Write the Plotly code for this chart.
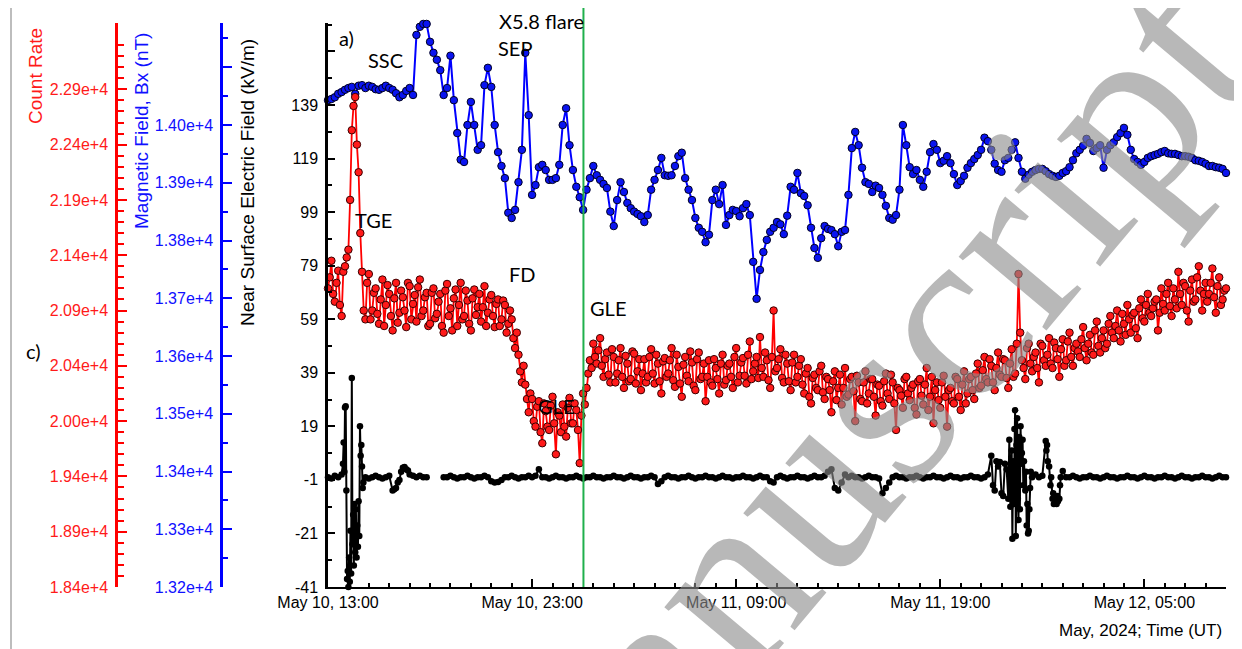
import plotly.graph_objects as go
import pandas as pd

# ---------------- data ----------------
START = "2024-05-10 13:00"
END = "2024-05-12 09:00"
FLARE_TIME = "2024-05-11 01:31"

# Magnetic field Bx (nT), 10-minute samples from START
bx_nT = [
    14043, 14045, 14048, 14054, 14057, 14061, 14064, 14066, 14054, 14068,
    14069, 14064, 14068, 14066, 14062, 14061, 14064, 14068, 14064, 14061,
    14055, 14048, 14052, 14059, 14064, 14052, 14156, 14170, 14175, 14175,
    14144, 14125, 14113, 14095, 14052, 14064, 14120, 14043, 13986, 13940,
    13936, 14000, 14040, 14000, 13957, 13965, 14069, 14099, 14066, 14000,
    13953, 13929, 13908, 13848, 13839, 13853, 13901, 13957, 14125, 14017,
    13879, 13896, 13927, 13931, 13922, 13905, 13905, 13908, 13931, 14000,
    14029, 13965, 13922, 13893, 13875, 13853, 13888, 13908, 13929, 13913,
    13905, 13898, 13891, 13850, 13825, 13870, 13901, 13884, 13865, 13856,
    13850, 13846, 13842, 13832, 13844, 13888, 13905, 13922, 13943, 13913,
    13912, 13913, 13929, 13946, 13952, 13908, 13888, 13870, 13839, 13822,
    13815, 13797, 13810, 13870, 13888, 13863, 13896, 13827, 13844, 13853,
    13851, 13842, 13856, 13863, 13844, 13763, 13699, 13749, 13780, 13801,
    13815, 13822, 13832, 13828, 13811, 13843, 13893, 13888, 13917, 13882,
    13877, 13861, 13822, 13787, 13770, 13804, 13825, 13820, 13818, 13811,
    13790, 13815, 13818, 13879, 13960, 13988, 13965, 13926, 13901, 13898,
    13884, 13895, 13891, 13879, 13860, 13839, 13836, 13844, 13888, 14000,
    13965, 13927, 13915, 13922, 13905, 13893, 13919, 13953, 13967, 13957,
    13934, 13938, 13946, 13934, 13915, 13896, 13903, 13912, 13926, 13934,
    13941, 13948, 13957, 13978, 13972, 13957, 13933, 13922, 13919, 13939,
    13943, 13957, 13970, 13943, 13919, 13907, 13914, 13919, 13922, 13924,
    13924, 13920, 13915, 13912, 13910, 13912, 13917, 13920, 13927, 13939,
    13951, 13957, 13964, 13976, 13969, 13955, 13960, 13965, 13926, 13957,
    13965, 13970, 13979, 13986, 13995, 13983, 13957, 13941, 13936, 13931,
    13936, 13943, 13946, 13948, 13950, 13953, 13955, 13951, 13950, 13950,
    13948, 13946, 13946, 13945, 13943, 13939, 13938, 13936, 13933, 13929,
    13929, 13927, 13926, 13924, 13917,
]

# Count rate at the full 10-minute marks from START
count_rate = [
    21100, 21350, 20980, 21260, 20850, 21300, 21450, 22530, 22830, 22150,
    21250, 20820, 21230, 20900, 21100, 20780, 21180, 20950, 21050, 20720,
    21150, 20880, 21020, 20750, 21120, 20960, 20800, 21180, 20900, 21060,
    20780, 21100, 20870, 21050, 20700, 21140, 20920, 21010, 20760, 21150,
    20850, 20990, 20720, 21090, 20930, 20800, 21120, 20880, 21040, 20750,
    21000, 20820, 20950, 20780, 20820, 20560, 20500, 20250, 20230, 19980,
    20100, 19850, 20080, 19700, 19990, 19820, 20120, 19600, 19950, 20050,
    19760, 20110, 19880, 20000, 19520, 20150, 20200, 20450, 20600, 20420,
    20650, 20300, 20520, 20250, 20480, 20330, 20560, 20200, 20420, 20280,
    20510, 20350, 20180, 20460, 20300, 20550, 20240, 20420, 20150, 20470,
    20330, 20560, 20210, 20390, 20120, 20480, 20260, 20430, 20180, 20520,
    20300, 20080, 20450, 20220, 20380, 20150, 20500, 20270, 20420, 20200,
    20560, 20310, 20470, 20240, 20620, 20350, 20480, 20660, 20300, 20450,
    20200, 20900, 20380, 20550, 20250, 20420, 20180, 20500, 20300, 20460,
    20150, 20380, 20060, 20320, 20180, 20400, 20100, 20280, 19980, 20350,
    20200, 20050, 20380, 20140, 20300, 19900, 20250, 20080, 20350, 20150,
    20280, 19950, 20220, 20040, 20330, 20100, 20250, 19820, 20180, 20020,
    20300, 20090, 20230, 19960, 20280, 20050, 20380, 20120, 19880, 20250,
    20020, 20310, 19850, 20200, 20060, 20280, 20000, 20350, 20150, 20300,
    20100, 20420, 20220, 20480, 20250, 20400, 20180, 20520, 20300, 20450,
    20200, 20550, 20330, 21230, 20450, 20280, 20600, 20350, 20520, 20250,
    20580, 20400, 20650, 20380, 20560, 20300, 20640, 20450, 20700, 20400,
    20600, 20480, 20750, 20450, 20680, 20500, 20800, 20520, 20720, 20600,
    20850, 20650, 20900, 20620, 20780, 20950, 20700, 20880, 20650, 21000,
    20800, 21050, 20850, 20980, 20720, 21100, 20900, 21150, 20850, 21000,
    21250, 20950, 21120, 20800, 21180, 21000, 21300, 20900, 21150, 21050,
    21280, 20880, 21200, 21000, 21100,
]

# Count rate at the 5-minute marks between them (START + 5 min, + 15 min, ...)
count_rate_mid = [
    21200, 21050, 21150, 20950, 21250, 21380, 21900, 22750, 22400, 21600,
    20900, 21150, 20820, 21060, 20870, 21000, 20760, 21130, 20850, 21010,
    20790, 21080, 20900, 21150, 20820, 21040, 21110, 20850, 21020, 20760,
    21060, 20830, 20980, 20760, 21080, 20850, 20720, 21090, 20950, 20820,
    21080, 20780, 21010, 20860, 21050, 20930, 20760, 21000, 20850, 20960,
    20760, 20990, 20700, 20900, 20650, 20700, 20350, 20400, 20100, 20150,
    19900, 20030, 19800, 20060, 19850, 20040, 19880, 19980, 19800, 19850,
    20020, 19880, 20060, 19820, 19950, 20050, 20330, 20380, 20480, 20540,
    20400, 20460, 20320, 20550, 20250, 20450, 20300, 20490, 20260, 20530,
    20240, 20460, 20330, 20250, 20480, 20330, 20500, 20260, 20440, 20300,
    20450, 20270, 20500, 20240, 20410, 20310, 20530, 20220, 20460, 20280,
    20420, 20300, 20250, 20460, 20280, 20420, 20230, 20400, 20300, 20480,
    20250, 20430, 20310, 20500, 20280, 20420, 20290, 20380, 20520, 20270,
    20480, 20350, 20460, 20290, 20500, 20260, 20430, 20250, 20400, 20230,
    20330, 20120, 20290, 20200, 20350, 20160, 20300, 20180, 20260, 20090,
    20320, 20200, 20120, 20280, 20170, 20310, 20100, 20250, 20060, 20280,
    20120, 20230, 20080, 20260, 20150, 20320, 20060, 20200, 20130, 20280,
    20150, 20200, 20020, 20260, 20130, 20230, 20000, 20300, 20180, 20090,
    20250, 20120, 20180, 20080, 20300, 20120, 20230, 20060, 20280, 20180,
    20330, 20200, 20360, 20280, 20460, 20250, 20380, 20320, 20460, 20290,
    20420, 20300, 20600, 20700, 20380, 20560, 20420, 20480, 20380, 20600,
    20450, 20500, 20420, 20610, 20460, 20550, 20400, 20620, 20480, 20560,
    20530, 20640, 20560, 20600, 20520, 20720, 20580, 20650, 20560, 20780,
    20700, 20760, 20720, 20870, 20680, 20820, 20860, 20740, 20920, 20830,
    20950, 20880, 20920, 21000, 20880, 20960, 21050, 20940, 21100, 20920,
    21050, 21150, 20900, 21080, 20980, 21200, 21080, 21050, 20980, 21150,
    21020, 21120, 20950, 21080,
]

# Near-surface electric field (kV/m), 10-minute samples from START (None = data gap)
efield_10min = [
    0, -0.5, 0.5, 0, 1, 26, -41, 37, -28, -9,
    4, 0, -0.5, 0, 0.5, 0, -0.5, 0, 0.5, -5,
    -4, -1, 3.5, 3, 1, 0.5, 0, 0.5, 0, 0,
    None, None, None, None, 0,
    0, 0.5, 0, -0.5, 0, 0, 0.5, 0, -0.5, 0, 0, 0.5, 0,
    -1.5, -2, -1.8, -1,
    0, 0, 0.5, 0, -0.5, 0, 0, 0.5, 0,
    0.5, 3,
    0, 0, -0.5, 0, 0.5, 0, 0, -0.5, 0, 0, 0.5, 0, -0.5, 0, 0, 0.5, 0,
    0, -0.5, 0, 0, 0.5, 0, 0, -0.5, 0, 0.5, 0, 0, -0.5, 0, 0, 0.5, 0,
    -2.5, -1.5,
    0, 0.5, 0, 0, -0.5, 0, 0, 0.5, 0, -0.5, 0, 0, 0.5, 0, 0, -0.5,
    0, 0.5, 0, 0, -0.5, 0, 0, 0.5, 0, 0, -0.5, 0, 0.5, 0, 0,
    -1.5, -2,
    0, 0.5, 0, -0.5, 0, 0, 0.5, 0, 0, -0.5, 0, 0.5, 0, 0, 0.5,
    2, 3, -4, -5, -2, 1, 0,
    0.5, 0, 0, -0.5, 0, 0.5, 0, 0, -0.5,
    -6, -4, -2, 0,
    0.5, 0, 0, -0.5, 0, 0, 0.5, 0, -0.5, 0, 0, 0.5, 0, 0,
    -0.5, 0, 0.5, 0, 0, -0.5, 0, 0, 0.5, 0, 0, -0.5, 0, 1,
    8, -5, 4, -6, 5, -8, 10, 25, -16, 9, -5, -20, 0, 1, 0, 0.5,
    13.5, 4, -8, -9.6, -8, 2.3, 0,
    0, 0.5, 0, -0.5, 0, 0, 0.5, 0, 0, -0.5, 0, 0.5, 0, 0, -0.5, 0,
    0, 0.5, 0, 0, -0.5, 0, 0.5, 0, 0, -0.5, 0, 0, 0.5, 0, 0, -0.5,
    0, 0.5, 0, 0, -0.5, 0, 0, 0.5, 0, 0, -0.5, 0, 0.5, 0, 0,
]

# extra electric-field readings inside the disturbed intervals (minutes after START, kV/m)
efield_burst_min = [
    44, 46, 48, 52, 54, 56, 58, 62, 64, 66, 68, 72, 74, 76, 78, 82, 84, 86, 88,
    92, 94, 96, 98, 102, 104,
    195, 205, 215, 225, 235,
    1955, 1965, 1975, 1985, 1995, 2003, 2006, 2008, 2012, 2014, 2016, 2018,
    2022, 2024, 2026, 2028, 2032, 2034, 2036, 2038, 2042, 2044, 2046, 2052,
    2054, 2056, 2058, 2062, 2064, 2066, 2112, 2114, 2116, 2124, 2126, 2132,
    2134, 2136, 2142, 2144, 2146, 2152, 2154,
]
efield_burst_val = [
    5, 13, 2, 26.5, -5, -38, -35, -30, -39, -20, -36, -25, -14, -33, -10, -12,
    -30, -18, -26, -22, 19, 8, 12, -4, -2,
    -4.5, -2, 2, 3.8, 2.5,
    -3, 6, 5.7, -7, 3, 14, -11, 2, -23, 6, -10, 18,
    -22, 12, 22, -8, 15, -12, 19, 5, 14, -3, 6, 2,
    -18, -10, -21, -12, -4, 2, 10, 12, 6, -3, 0, -6,
    -10, -7, -10, -7, -9, -3, 0,
]

# axis ticks
count_tickvals = [18400, 18900, 19400, 19900, 20400, 20900, 21400, 21900, 22400, 22900]
count_ticktext = ["1.84e+4", "1.89e+4", "1.94e+4", "2.00e+4", "2.04e+4",
                  "2.09e+4", "2.14e+4", "2.19e+4", "2.24e+4", "2.29e+4"]
bx_tickvals = [13200, 13300, 13400, 13500, 13600, 13700, 13800, 13900, 14000, 14100]
bx_ticktext = ["1.32e+4", "1.33e+4", "1.34e+4", "1.35e+4", "1.36e+4",
               "1.37e+4", "1.38e+4", "1.39e+4", "1.40e+4", ""]
ef_tickvals = [-41, -21, -1, 19, 39, 59, 79, 99, 119, 139, 159]
ef_ticktext = ["-41", "-21", "-1", "19", "39", "59", "79", "99", "119", "139", ""]
x_label_text = ["May 10, 13:00", "May 10, 23:00", "May 11, 09:00",
                "May 11, 19:00", "May 12, 05:00"]

# ---------------- build ----------------
start = pd.Timestamp(START)
t_bx = pd.date_range(start, periods=len(bx_nT), freq="10min")

cr_pairs = [(i * 10, v) for i, v in enumerate(count_rate)]
cr_pairs += [(i * 10 + 5, v) for i, v in enumerate(count_rate_mid)]
cr_pairs.sort(key=lambda p: p[0])
t_cr = [start + pd.Timedelta(minutes=m) for m, _ in cr_pairs]
v_cr = [v for _, v in cr_pairs]

ef_pairs = [(i * 10, v) for i, v in enumerate(efield_10min)]
ef_pairs += list(zip(efield_burst_min, efield_burst_val))
ef_pairs.sort(key=lambda p: p[0])
t_ef = [start + pd.Timedelta(minutes=m) for m, _ in ef_pairs]
v_ef = [v for _, v in ef_pairs]

major_x = list(pd.date_range(start, pd.Timestamp(END), freq="2h"))
major_txt = []
li = 0
for i, _ in enumerate(major_x):
    if i % 5 == 0 and li < len(x_label_text):
        major_txt.append(x_label_text[li]); li += 1
    else:
        major_txt.append("")
minor_x = list(pd.date_range(start, pd.Timestamp(END), freq="1h"))

# page body has an 8 px margin: the figure starts 8 px in from the window edge
OFF = 8
W, H = 1242 - OFF, 649 - OFF
Y_TOP, Y_BOT = 23, 587          # plot area top / bottom in window pixels
TOP = Y_TOP - OFF
BOT = H - (Y_BOT - OFF)
PH = Y_BOT - Y_TOP


def py(ypx):
    return (Y_BOT - ypx) / PH


def px(xpx):
    return (xpx - OFF) / W


fig = go.Figure()
fig.add_trace(go.Scatter(
    x=t_ef, y=v_ef, mode="lines+markers", yaxis="y", connectgaps=False,
    line=dict(color="black", width=2),
    marker=dict(color="black", size=6.5),
    name="Electric field", cliponaxis=False))
fig.add_trace(go.Scatter(
    x=t_cr, y=v_cr, mode="lines+markers", yaxis="y3",
    line=dict(color="#ff0000", width=1.8),
    marker=dict(color="#ff1a1a", size=7.5, line=dict(color="#3a0000", width=1)),
    name="Count rate", cliponaxis=False))
fig.add_trace(go.Scatter(
    x=t_bx, y=bx_nT, mode="lines+markers", yaxis="y2",
    line=dict(color="#0000ff", width=2),
    marker=dict(color="#0a14f0", size=7.5, line=dict(color="#000020", width=1)),
    name="Bx", cliponaxis=False))

axfont = dict(family="Liberation Sans, Arial, sans-serif", size=16)

fig.update_layout(
    width=W, height=H,
    margin=dict(l=0, r=0, t=TOP, b=BOT, autoexpand=False),
    paper_bgcolor="white", plot_bgcolor="white",
    showlegend=False,
    font=axfont,
    xaxis=dict(
        domain=[px(328), px(1226)], type="date",
        range=[start, pd.Timestamp(END)],
        showline=True, linecolor="black", linewidth=2,
        ticks="inside", ticklen=8, tickwidth=1.5, tickcolor="black",
        tickmode="array", tickvals=major_x, ticktext=major_txt,
        tickfont=dict(size=16, color="black"),
        minor=dict(tickmode="array", tickvals=minor_x, ticks="inside",
                   ticklen=4, tickwidth=1.5, tickcolor="black"),
        showgrid=False, zeroline=False, anchor="y",
    ),
    yaxis=dict(
        range=[-41, -41 + PH / 2.678],
        showline=True, linecolor="black", linewidth=2.5,
        ticks="inside", ticklen=7, tickwidth=1.5, tickcolor="black",
        tickmode="array", tickvals=ef_tickvals, ticktext=ef_ticktext,
        tickfont=dict(size=16, color="black"), ticklabelstandoff=4,
        minor=dict(tickmode="array", tickvals=list(range(-31, 171, 20)),
                   ticks="inside", ticklen=4, tickwidth=1.5, tickcolor="black"),
        showgrid=False, zeroline=False,
    ),
    yaxis2=dict(
        range=[13200, 13200 + PH * 1.7316], overlaying="y", anchor="free",
        position=px(221), side="left",
        showline=True, linecolor="#0000ff", linewidth=2.5,
        ticks="inside", ticklen=9, tickwidth=2, tickcolor="#0000ff",
        tickmode="array", tickvals=bx_tickvals, ticktext=bx_ticktext,
        tickfont=dict(size=16, color="#1010ff"), ticklabelstandoff=4,
        minor=dict(tickmode="array", tickvals=list(range(13250, 14200, 100)),
                   ticks="inside", ticklen=5, tickwidth=2, tickcolor="#0000ff"),
        showgrid=False, zeroline=False,
    ),
    yaxis3=dict(
        range=[18400, 18400 + PH * 9.042], overlaying="y", anchor="free",
        position=px(116), side="left",
        showline=True, linecolor="#ff0000", linewidth=2.5,
        ticks="inside", ticklen=9, tickwidth=2, tickcolor="#ff0000",
        tickmode="array", tickvals=count_tickvals, ticktext=count_ticktext,
        tickfont=dict(size=16, color="#ff1a1a"), ticklabelstandoff=4,
        minor=dict(tickmode="array",
                   tickvals=[v for v in range(18500, 23600, 100) if (v - 18400) % 500],
                   ticks="inside", ticklen=6, tickwidth=2, tickcolor="#ff0000"),
        showgrid=False, zeroline=False,
    ),
)

# green event line and outer frame
fig.add_shape(type="line", xref="x", yref="paper", x0=FLARE_TIME, x1=FLARE_TIME,
              y0=0, y1=py(5), line=dict(color="#1fb04c", width=2))
fig.add_shape(type="rect", xref="paper", yref="paper", x0=px(11), x1=px(1240),
              y0=py(700), y1=py(5), line=dict(color="#a8a8a8", width=1.5))

# axis titles
titles = [
    ("Count Rate", 35, 76, "#ff1a1a"),
    ("Magnetic Field, Bx (nT)", 141, 131, "#1010ff"),
    ("Near Surface Electric Field (kV/m)", 248, 183, "black"),
]
for txt, xx, yy, col in titles:
    fig.add_annotation(text=txt, x=px(xx), y=py(yy), xref="paper", yref="paper",
                       textangle=-90, showarrow=False, xanchor="center", yanchor="middle",
                       font=dict(family="Liberation Sans, Arial", size=19, color=col))

labels = [
    ("a)", 346, 38), ("SSC", 385, 60), ("X5.8 flare", 541, 21), ("SEP", 515, 48),
    ("TGE", 373, 220), ("FD", 522, 274), ("GLE", 608, 308), ("GLE", 556, 406),
    ("c)", 33, 351),
]
for txt, xx, yy in labels:
    fig.add_annotation(text=txt, x=px(xx), y=py(yy), xref="paper", yref="paper",
                       showarrow=False, xanchor="center", yanchor="middle",
                       font=dict(family="Lato, Open Sans, sans-serif", size=20, color="black"))

fig.add_annotation(text="May, 2024; Time (UT)", x=px(1224), y=py(630),
                   xref="paper", yref="paper", showarrow=False,
                   xanchor="right", yanchor="middle",
                   font=dict(family="Liberation Sans, Arial", size=17, color="black"))

# watermark
fig.add_annotation(text="Manuscript", x=px(835), y=py(450), xref="paper", yref="paper",
                   showarrow=False, xanchor="center", yanchor="middle", textangle=-50,
                   font=dict(family="Liberation Serif, Times New Roman, serif", size=250,
                             color="rgba(140,140,140,0.62)"))

fig.write_html("out.html")
